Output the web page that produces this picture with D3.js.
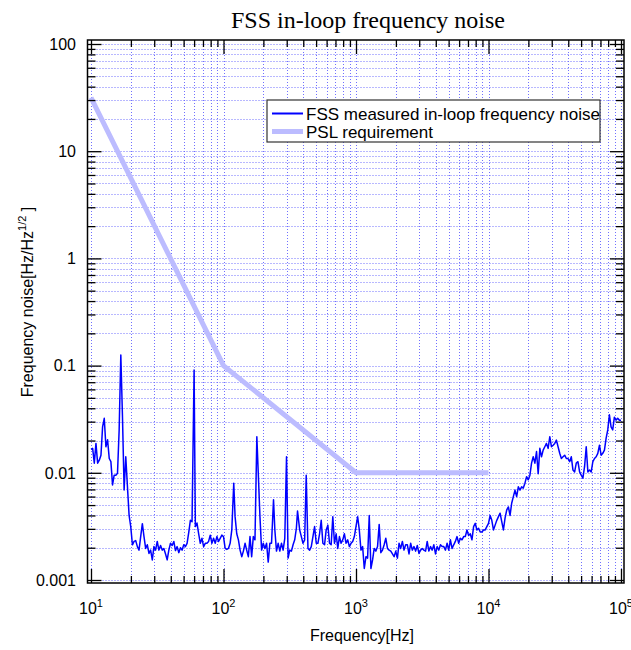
<!DOCTYPE html>
<html><head><meta charset="utf-8">
<script src="https://cdn.jsdelivr.net/npm/d3@7"></script>
<style>body{margin:0;background:#fff}svg{display:block}</style>
</head><body>
<svg id="chart" width="631" height="650"></svg>
<script>
// measured in-loop frequency noise [Hz] / [Hz/Hz^1/2]
const freqs = [10.0,10.29,10.59,10.90,11.22,11.55,11.89,12.23,12.59,12.96,13.34,13.73,14.13,14.54,14.96,15.40,15.85,16.31,16.79,17.28,
17.78,18.30,18.84,19.39,19.95,20.54,21.14,21.75,22.39,23.04,23.71,24.41,25.12,25.85,26.61,27.38,28.18,29.01,29.85,30.73,
31.62,32.55,33.50,34.47,35.48,36.52,37.58,38.68,39.81,40.97,42.17,43.40,44.67,45.97,47.32,48.70,50.12,51.58,53.09,54.64,
56.23,57.88,60.0,61.31,63.10,64.94,66.83,68.79,70.79,72.86,74.99,77.18,79.43,81.75,84.14,86.60,89.13,91.73,94.41,97.16,
100.0,102.9,105.9,109.0,112.2,115.5,119.5,122.3,125.9,129.6,133.4,137.3,141.3,145.4,149.6,154.0,158.5,163.1,167.9,172.8,
178.5,183.0,188.4,193.9,199.5,205.4,211.4,217.5,223.9,230.4,238.5,244.1,251.2,258.5,266.1,273.8,281.8,290.1,299.0,307.3,
316.2,325.5,335.0,344.7,354.8,362.0,375.8,386.8,398.1,409.7,421.0,434.0,446.7,459.7,473.2,486.9,501.2,515.8,530.9,546.4,
562.3,578.8,595.7,613.1,631.0,649.4,668.3,687.9,708.0,728.6,749.9,771.8,794.3,817.5,841.4,866.0,891.3,917.3,944.1,971.6,
1000,1029,1059,1090,1122,1155,1189,1223,1259,1296,1334,1372,1413,1454,1496,1540,1585,1631,1679,1728,
1778,1830,1884,1939,1995,2054,2113,2175,2239,2304,2371,2441,2512,2585,2661,2738,2818,2901,2985,3073,
3162,3255,3350,3447,3548,3652,3758,3868,3981,4097,4217,4340,4467,4597,4732,4870,5012,5158,5309,5464,
5623,5788,5957,6131,6310,6494,6683,6879,7079,7286,7499,7718,7943,8175,8414,8660,8913,9173,9441,9716,
10000,10290,10590,10900,11220,11550,11890,12230,12590,12960,13340,13730,14130,14540,14960,15400,15850,16310,16790,17280,
17780,18300,18840,19390,19950,20540,21130,21750,22390,23040,23710,24410,25120,25850,26610,27380,28180,29010,29850,30730,
31620,32550,33500,34470,35480,36520,37580,38680,39810,40970,42170,43400,44670,45970,47320,48700,50120,51580,53090,54640,
56230,57880,59570,61310,63100,64940,66830,68790,70790,72860,74990,77180,79430,81750,84140,86600,89130,91730,94410,97160,
100000];
const noise = [0.0165,0.0169,0.0123,0.0188,0.0123,0.0131,0.0146,0.0268,0.0322,0.0175,0.0203,0.0136,0.0127,0.0077,0.0095,0.0095,0.0099,0.0251,0.1256,0.0333,
0.0069,0.0141,0.0074,0.0040,0.00315,0.00213,0.00229,0.00233,0.00205,0.0019,0.00254,0.00335,0.00254,0.00197,0.00213,0.00177,0.0019,0.00154,0.00205,0.0019,
0.00229,0.0019,0.0021,0.0019,0.00197,0.00175,0.00154,0.0019,0.0022,0.0021,0.00229,0.00188,0.00205,0.0018,0.0020,0.0019,0.00213,0.00205,0.0022,0.00277,
0.0036,0.0035,0.091,0.00315,0.0034,0.0027,0.0022,0.00245,0.00205,0.0022,0.0022,0.00229,0.00262,0.0022,0.00245,0.0022,0.00254,0.00229,0.00245,0.00262,
0.00254,0.00197,0.00193,0.00197,0.0022,0.00293,0.0080,0.0039,0.0027,0.00237,0.0019,0.00165,0.00186,0.0022,0.0019,0.00165,0.00254,0.00165,0.00254,0.00237,
0.0217,0.0099,0.0039,0.0019,0.0022,0.00197,0.0022,0.00147,0.0022,0.0022,0.0056,0.00293,0.00186,0.0022,0.00186,0.0022,0.0019,0.00245,0.0141,0.0016,
0.0019,0.00186,0.00213,0.00237,0.00304,0.0044,0.00293,0.00254,0.0022,0.00237,0.0095,0.00197,0.0019,0.00205,0.00254,0.00315,0.0022,0.0022,0.0027,0.0036,
0.0022,0.00213,0.00293,0.00325,0.0022,0.00213,0.0039,0.0022,0.0027,0.00197,0.00254,0.0022,0.00237,0.0027,0.0022,0.00237,0.00205,0.0022,0.00229,0.00254,
0.00315,0.0039,0.00293,0.0019,0.00205,0.00128,0.00165,0.0016,0.0040,0.00128,0.00154,0.00197,0.00186,0.00205,0.0033,0.0018,0.0019,0.00213,0.00245,0.00197,
0.0019,0.00186,0.00175,0.00165,0.00186,0.0016,0.0022,0.00197,0.00229,0.0019,0.00213,0.00213,0.00175,0.0022,0.0019,0.00205,0.00186,0.0021,0.00177,0.0019,
0.00197,0.0019,0.00186,0.00229,0.00186,0.00205,0.0019,0.00213,0.00175,0.00205,0.0019,0.00213,0.00205,0.00205,0.0019,0.0022,0.0019,0.00237,0.00197,0.00213,
0.00229,0.00254,0.0022,0.00245,0.00237,0.00254,0.00254,0.00293,0.0026,0.0027,0.00237,0.00315,0.00338,0.00293,0.00304,0.0028,0.0028,0.00293,0.00293,0.00315,
0.00338,0.0040,0.0036,0.00293,0.00325,0.0036,0.0039,0.0042,0.0035,0.00293,0.0038,0.0045,0.0048,0.0040,0.0052,0.0060,0.0069,0.0060,0.0074,0.0069,
0.0074,0.0072,0.0080,0.0092,0.0086,0.0095,0.0123,0.0141,0.0123,0.0158,0.0098,0.0169,0.0141,0.0163,0.0175,0.0188,0.0169,0.0217,0.0175,0.0181,
0.0188,0.0202,0.0175,0.0152,0.0136,0.0141,0.0146,0.0136,0.0136,0.0127,0.0141,0.0106,0.0102,0.0123,0.0127,0.0102,0.0095,0.0089,0.0114,0.0175,
0.0102,0.0106,0.0102,0.0127,0.0136,0.0141,0.0152,0.0181,0.0146,0.0152,0.0163,0.0209,0.0251,0.0348,0.0268,0.0251,0.0330,0.0310,0.0322,0.0310,
0.0310];
// PSL requirement
const reqFreqs = [10, 100, 1000, 10000];
const reqValues = [31.6, 0.1, 0.01, 0.01];
// axis ticks
const xTickExps = [1, 2, 3, 4, 5];
const yTickValues = [0.001, 0.01, 0.1, 1, 10, 100];
const yTickLabels = ["0.001", "0.01", "0.1", "1", "10", "100"];
const legendLabels = ["FSS measured in-loop frequency noise", "PSL requirement"];
const titleText = "FSS in-loop frequency noise";
const xTitle = "Frequency[Hz]";

const svg = d3.select("#chart");
const F = {l: 87.5, r: 624, t: 40, b: 583};
const x = d3.scaleLog().domain([10, 1e5]).range([91, 621]);
const y = d3.scaleLog().domain([0.001, 100]).range([580, 44]);

const xMajor = xTickExps.map(e => Math.pow(10, e));
const xMinor = [];
for (let e = 1; e < 5; e++) for (let m = 2; m <= 9; m++) xMinor.push(m * Math.pow(10, e));
const yMinor = [];
for (let e = -3; e < 2; e++) for (let m = 2; m <= 9; m++) yMinor.push(m * Math.pow(10, e));
const xAll = xMajor.concat(xMinor), yAll = yTickValues.concat(yMinor);

// grid
const grid = svg.append("g").attr("stroke", "#7070ff").attr("stroke-width", 1).attr("stroke-dasharray", "1,2");
grid.selectAll("line.v").data(xAll).join("line").attr("class", "v")
  .attr("x1", d => Math.round(x(d)) + 0.5).attr("x2", d => Math.round(x(d)) + 0.5).attr("y1", F.t).attr("y2", F.b);
grid.selectAll("line.h").data(yAll).join("line").attr("class", "h")
  .attr("y1", d => Math.round(y(d)) + 0.5).attr("y2", d => Math.round(y(d)) + 0.5).attr("x1", F.l).attr("x2", F.r);

// PSL requirement
const line = d3.line().x(d => x(d[0])).y(d => y(d[1]));
svg.append("path").datum(reqFreqs.map((f, i) => [f, reqValues[i]]))
  .attr("d", line).attr("fill", "none").attr("stroke", "#bcbcff").attr("stroke-width", 5);
// measured
svg.append("path").datum(freqs.map((f, i) => [f, noise[i]]))
  .attr("d", line).attr("fill", "none").attr("stroke", "#0000ff").attr("stroke-width", 1.5).attr("stroke-linejoin", "round");

// frame
svg.append("rect").attr("x", F.l).attr("y", F.t).attr("width", F.r - F.l).attr("height", F.b - F.t)
  .attr("fill", "none").attr("stroke", "#000").attr("stroke-width", 1.5);

function ticks(gen, tr, vals, size) {
  svg.append("g").attr("transform", tr)
    .call(gen.tickValues(vals).tickSize(size).tickFormat(""))
    .call(g => g.select(".domain").remove())
    .call(g => g.selectAll("line").attr("stroke", "#000").attr("stroke-width", 1.3));
}
ticks(d3.axisLeft(y), `translate(${F.l},0)`, yTickValues, -14);
ticks(d3.axisLeft(y), `translate(${F.l},0)`, yMinor, -8);
ticks(d3.axisRight(y), `translate(${F.r},0)`, yTickValues, -14);
ticks(d3.axisRight(y), `translate(${F.r},0)`, yMinor, -8);
ticks(d3.axisBottom(x), `translate(0,${F.b})`, xMajor, -14);
ticks(d3.axisBottom(x), `translate(0,${F.b})`, xMinor, -7);
ticks(d3.axisTop(x), `translate(0,${F.t})`, xMajor, -14);
ticks(d3.axisTop(x), `translate(0,${F.t})`, xMinor, -7);

const sans = "'Liberation Sans', Arial, sans-serif";
// y tick labels
svg.append("g").selectAll("text").data(yTickValues).join("text")
  .attr("x", 76).attr("y", d => y(d)).attr("dy", "0.36em").attr("text-anchor", "end")
  .attr("font-family", sans).attr("font-size", 16).attr("fill", "#000")
  .text((d, i) => yTickLabels[i]);
// x tick labels
const xl = svg.append("g").selectAll("text").data(xTickExps).join("text")
  .attr("x", d => x(Math.pow(10, d))).attr("y", 614).attr("text-anchor", "middle")
  .attr("font-family", sans).attr("font-size", 16).attr("fill", "#000");
xl.append("tspan").text("10");
xl.append("tspan").attr("font-size", 11).attr("dy", -7).text(d => d);

// title
svg.append("text").attr("x", 368).attr("y", 28).attr("text-anchor", "middle")
  .attr("font-family", "'Liberation Serif', 'Times New Roman', serif").attr("font-size", 24).text(titleText);
// x title
svg.append("text").attr("x", 362).attr("y", 641).attr("text-anchor", "middle")
  .attr("font-family", sans).attr("font-size", 16).text(xTitle);
// y title
const yt = svg.append("text").attr("transform", "translate(33,302) rotate(-90)").attr("text-anchor", "middle")
  .attr("font-family", sans).attr("font-size", 16);
yt.append("tspan").text("Frequency noise[Hz/Hz");
yt.append("tspan").attr("font-size", 11).attr("dy", -7).text("1/2");
yt.append("tspan").attr("dy", 7).text(" ]");

// legend
const lg = svg.append("g");
lg.append("rect").attr("x", 267).attr("y", 100).attr("width", 333).attr("height", 42)
  .attr("fill", "#fff").attr("stroke", "#333").attr("stroke-width", 1.2);
const lStyles = [{c: "#0000ff", w: 2}, {c: "#bcbcff", w: 5}];
lg.selectAll("line").data(legendLabels).join("line")
  .attr("x1", 272).attr("x2", 303).attr("y1", (d, i) => 113.5 + i * 18).attr("y2", (d, i) => 113.5 + i * 18)
  .attr("stroke", (d, i) => lStyles[i].c).attr("stroke-width", (d, i) => lStyles[i].w);
lg.selectAll("text").data(legendLabels).join("text")
  .attr("x", 306).attr("y", (d, i) => 119.5 + i * 18)
  .attr("font-family", sans).attr("font-size", 17).text(d => d);
</script>
</body></html>
